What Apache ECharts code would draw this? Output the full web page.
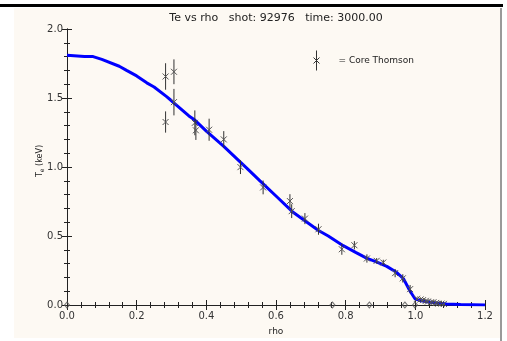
<!DOCTYPE html>
<html><head><meta charset="utf-8">
<script src="https://cdn.jsdelivr.net/npm/echarts@6/dist/echarts.min.js"></script>
<style>html,body{margin:0;padding:0;background:#fff}#c{width:507px;height:341px}</style>
</head><body><div id="c"></div>
<script>
// Fitted profile (blue line)
const rhoFit = [0, 0.05, 0.075, 0.1, 0.15, 0.171, 0.2, 0.229, 0.25, 0.286, 0.3, 0.35, 0.367, 0.4, 0.45, 0.5, 0.525, 0.554, 0.6, 0.65, 0.7, 0.722, 0.75, 0.793, 0.83, 0.86, 0.89, 0.918, 0.947, 0.966, 0.985, 0.999, 1.01, 1.033, 1.06, 1.09, 1.13, 1.2];
const teFit  = [1.81, 1.80, 1.80, 1.78, 1.73, 1.70, 1.66, 1.61, 1.58, 1.51, 1.48, 1.37, 1.34, 1.26, 1.15, 1.03, 0.97, 0.90, 0.79, 0.67, 0.58, 0.54, 0.50, 0.43, 0.38, 0.34, 0.31, 0.28, 0.235, 0.19, 0.10, 0.045, 0.035, 0.024, 0.015, 0.008, 0.003, 0.0];
// Core Thomson points
const rhoTS = [0.283, 0.307, 0.307, 0.283, 0.367, 0.370, 0.408, 0.450, 0.498, 0.563, 0.640, 0.645, 0.683, 0.722, 0.789, 0.825, 0.861, 0.889, 0.908, 0.942, 0.964, 0.985, 1.005, 1.015, 1.022, 1.03, 1.036, 1.045, 1.052, 1.06, 1.066, 1.075, 1.082];
const teTS  = [1.656, 1.69, 1.47, 1.326, 1.32, 1.266, 1.27, 1.20, 0.999, 0.852, 0.753, 0.68, 0.626, 0.549, 0.404, 0.433, 0.337, 0.32, 0.308, 0.231, 0.193, 0.115, 0.045, 0.04, 0.035, 0.03, 0.025, 0.02, 0.02, 0.015, 0.01, 0.01, 0.008];
const errTS = [0.096, 0.09, 0.096, 0.077, 0.09, 0.07, 0.08, 0.06, 0.05, 0.05, 0.05, 0.05, 0.04, 0.04, 0.04, 0.03, 0.03, 0.02, 0.02, 0.03, 0.03, 0.03, 0.01, 0.01, 0.01, 0.01, 0.01, 0.01, 0.01, 0.01, 0.01, 0.01, 0.01];
// Zero-valued points (diamonds)
const rhoZero = [0.0, 0.762, 0.868, 0.970, 0.999];
const teZero  = [0, 0, 0, 0, 0];
// Axis ticks
const xTicks = [0.0, 0.2, 0.4, 0.6, 0.8, 1.0, 1.2];
const yTicks = [0.0, 0.5, 1.0, 1.5, 2.0];
const titleText = 'Te vs rho   shot: 92976   time: 3000.00';

const FONT = 'DejaVu Sans';
const chart = echarts.init(document.getElementById('c'), null, {renderer: 'canvas'});
const axisCommon = {
  axisLine: {lineStyle: {color: '#222', width: 1}},
  axisTick: {inside: true, length: 5, lineStyle: {color: '#222'}},
  minorTick: {show: true, length: 3, lineStyle: {color: '#222'}},
  splitLine: {show: false}
};
const xBase = Object.assign({type: 'value', min: xTicks[0], max: xTicks[xTicks.length-1], interval: xTicks[1]-xTicks[0]}, axisCommon);
const yBase = Object.assign({type: 'value', min: yTicks[0], max: yTicks[yTicks.length-1], interval: yTicks[1]-yTicks[0]}, axisCommon);

chart.setOption({
  animation: false,
  backgroundColor: '#ffffff',
  graphic: [
    {type: 'rect', shape: {x: 14, y: 8, width: 486, height: 330}, style: {fill: '#fdf9f3'}, z: -10},
    {type: 'rect', shape: {x: 0, y: 4, width: 503, height: 3}, style: {fill: '#000'}, z: -5},
    {type: 'rect', shape: {x: 500, y: 8, width: 2, height: 333}, style: {fill: '#9a9a9a'}, z: -5},
    {type: 'text', x: 276, y: 18, style: {text: titleText, fill: '#222', font: '11px ' + FONT, textAlign: 'center', textVerticalAlign: 'middle'}}
  ],
  grid: {left: 67, right: 22, top: 29, bottom: 35},
  legend: {
    left: 306, top: 43, itemWidth: 34, itemHeight: 20, selectedMode: false,
    formatter: '= {name}',
    textStyle: {fontFamily: FONT, fontSize: 9, color: '#222'},
    data: [{name: 'Core Thomson', icon: 'path://M0,7L6,13M6,7L0,13M3,0L3,20', itemStyle: {color: 'none', borderColor: '#333', borderWidth: 1}}]
  },
  xAxis: [
    Object.assign({}, xBase, {position: 'bottom', name: 'rho', nameLocation: 'middle', nameGap: 22, nameMoveOverlap: false,
      nameTextStyle: {fontFamily: FONT, fontSize: 9, color: '#222'},
      axisLabel: {margin: 6, fontFamily: FONT, fontSize: 10, color: '#333', formatter: v => v.toFixed(1)}}),
    Object.assign({}, xBase, {position: 'top', axisLabel: {show: false}})
  ],
  yAxis: [
    Object.assign({}, yBase, {position: 'left', name: 'T{s|e} (keV)', nameLocation: 'middle', nameGap: 22, nameMoveOverlap: false,
      nameTextStyle: {fontFamily: FONT, fontSize: 8, color: '#222', padding: [0, 0, 0, 12], rich: {s: {fontSize: 6, fontFamily: FONT, color: '#222', verticalAlign: 'bottom', padding: [4, 0, 0, 0]}}},
      axisLabel: {margin: 4, fontFamily: FONT, fontSize: 10, color: '#333', formatter: v => v.toFixed(1)}}),
    Object.assign({}, yBase, {position: 'right', axisLabel: {show: false}})
  ],
  series: [
    {
      name: 'fit', type: 'line', xAxisIndex: 0, yAxisIndex: 0, showSymbol: false, smooth: false,
      lineStyle: {color: '#0000ff', width: 3}, data: rhoFit.map((r, i) => [r, teFit[i]]), z: 3
    },
    {
      name: 'Core Thomson', type: 'custom', xAxisIndex: 0, yAxisIndex: 0, z: 4,
      data: rhoTS.map((r, i) => [r, teTS[i], errTS[i]]),
      renderItem: function (params, api) {
        const x = api.value(0), y = api.value(1), e = api.value(2);
        const c = api.coord([x, y]);
        const lo = api.coord([x, y - e]);
        const hi = api.coord([x, y + e]);
        const s = 3;
        const st = {stroke: '#333', lineWidth: 1, fill: null};
        return {type: 'group', children: [
          {type: 'line', shape: {x1: c[0], y1: lo[1], x2: c[0], y2: hi[1]}, style: st},
          {type: 'line', shape: {x1: c[0]-s, y1: c[1]-s, x2: c[0]+s, y2: c[1]+s}, style: {stroke: '#555', lineWidth: 1}},
          {type: 'line', shape: {x1: c[0]-s, y1: c[1]+s, x2: c[0]+s, y2: c[1]-s}, style: {stroke: '#555', lineWidth: 1}}
        ]};
      }
    },
    {
      name: 'zero', type: 'scatter', xAxisIndex: 0, yAxisIndex: 0, symbol: 'diamond', symbolSize: [5, 6], z: 5,
      itemStyle: {color: 'rgba(0,0,0,0)', borderColor: '#555', borderWidth: 1},
      data: rhoZero.map((r, i) => [r, teZero[i]])
    }
  ]
});
</script></body></html>
